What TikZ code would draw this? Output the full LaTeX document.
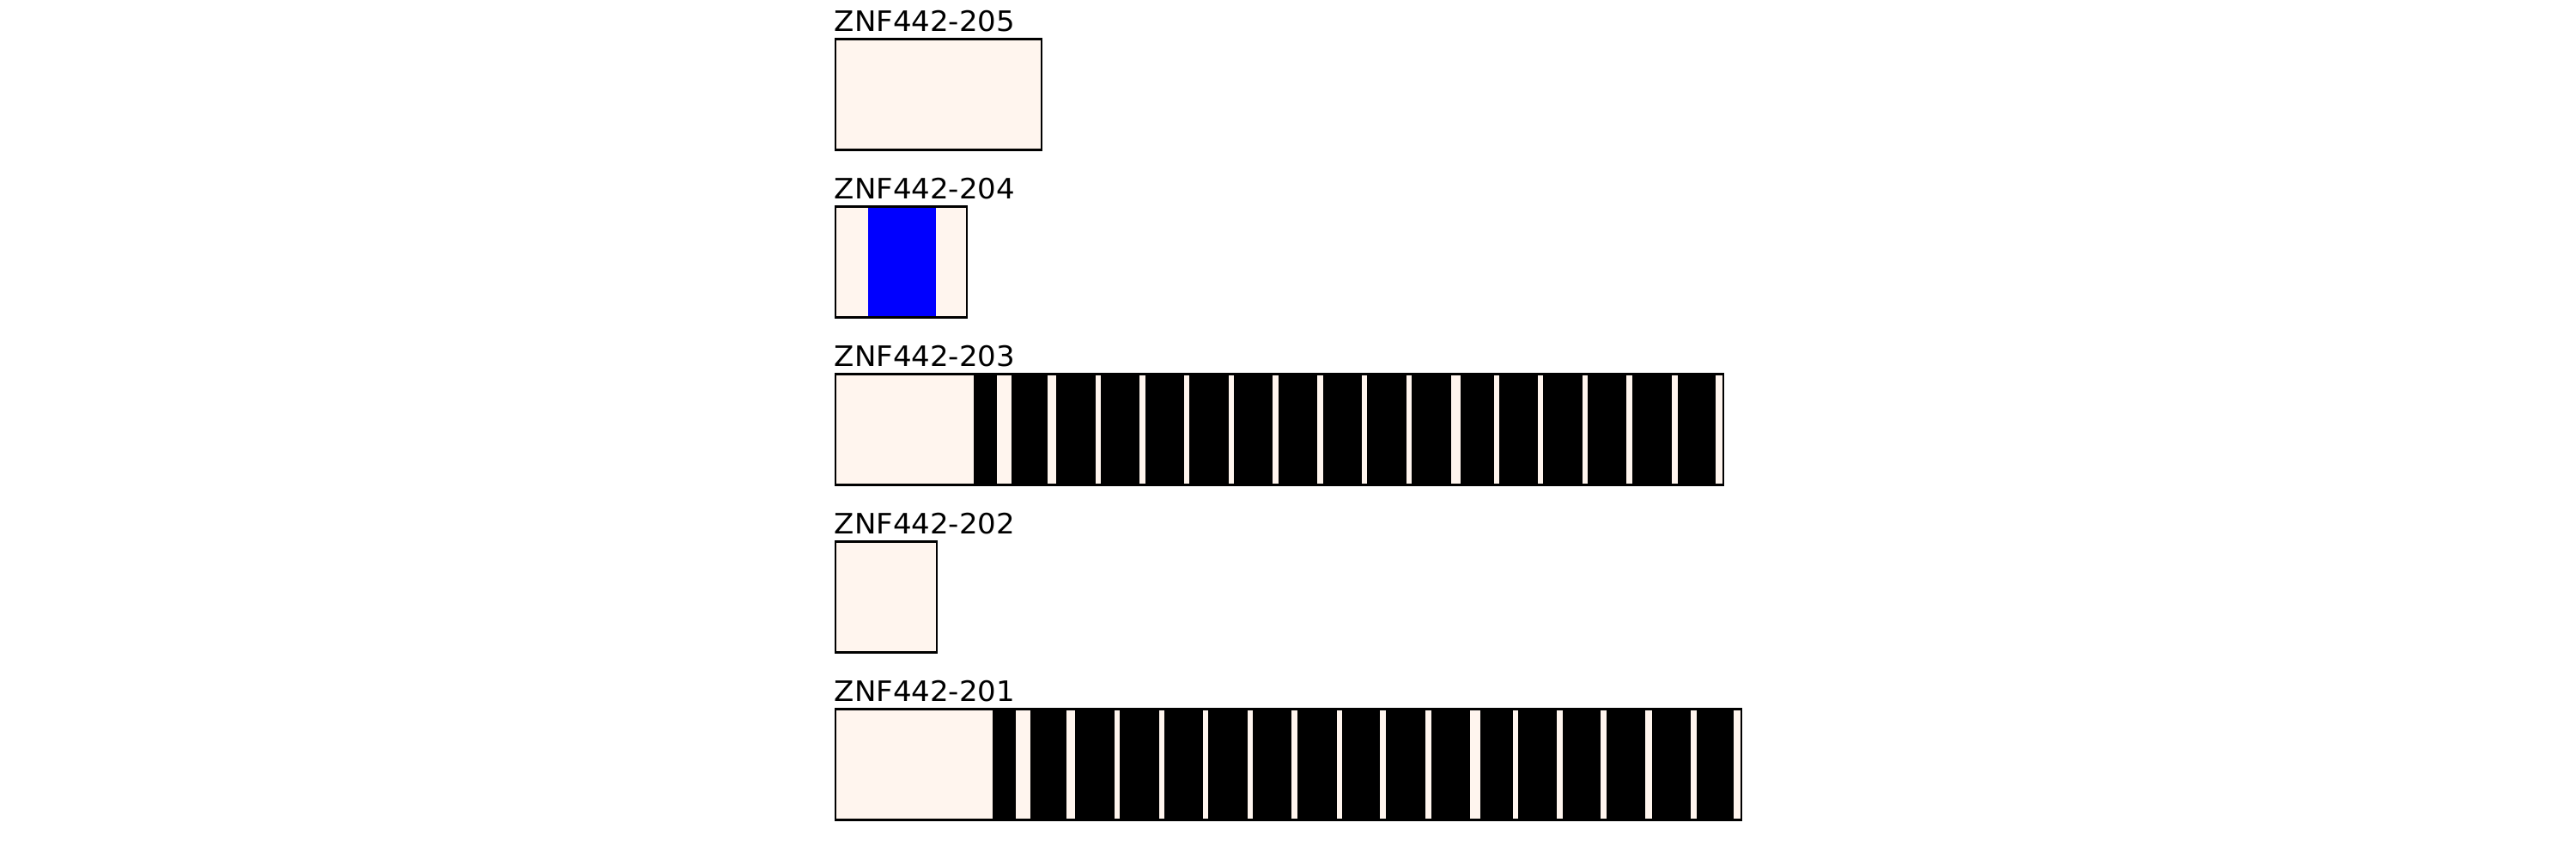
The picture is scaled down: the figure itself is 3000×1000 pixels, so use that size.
\documentclass[tikz,border=0pt]{standalone}
\usepackage{fontspec}
\newfontfamily\lblfont[FakeStretch=1.04]{DejaVu Sans}
\definecolor{utr}{HTML}{FFF5EE}
\definecolor{cdsblue}{HTML}{0000FF}
\tikzset{
  lbl/.style={anchor=base west, inner sep=0pt, font=\lblfont\fontsize{9.3}{11}\selectfont},
  tx/.style={draw=black, line width=0.65pt, fill=utr},
  zf/.style={draw=black, line width=0.3pt, fill=black},
  dom/.style={draw=none, fill=cdsblue},
  outl/.style={draw=black, line width=0.65pt}
}
\begin{document}
\begin{tikzpicture}[x=0.01cm, y=-0.01cm]
\useasboundingbox (0,0) rectangle (3000,1000);
% ZNF442-205
\node[lbl] (l205) at (971,36) {ZNF442-205};
\draw[tx] (972.7,45.5) rectangle (1212.7,174.5);
% ZNF442-204
\node[lbl] (l204) at (971,231) {ZNF442-204};
\draw[tx] (972.7,240.5) rectangle (1125.7,369.5);
\fill[dom] (1011,240.5) rectangle (1089.7,369.5);
\draw[outl] (972.7,240.5) rectangle (1125.7,369.5);
% ZNF442-203
\node[lbl] (l203) at (971,426) {ZNF442-203};
\draw[tx] (972.7,435.5) rectangle (2006.7,564.5);
\foreach \a/\b in {1135/1160,1179/1219,1231/1275,1283/1326,1335/1378,1386/1430,1438/1481.5,1490/1533,1542/1585,1593/1637,1645/1689,1702/1739,1747/1790,1798/1842,1850/1893.5,1902/1946,1954/1997}
  \draw[zf] (\a,435.5) rectangle (\b,564.5);
\draw[outl] (972.7,435.5) rectangle (2006.7,564.5);
% ZNF442-202
\node[lbl] (l202) at (971,621) {ZNF442-202};
\draw[tx] (972.7,630.5) rectangle (1090.7,759.5);
% ZNF442-201
\node[lbl] (l201) at (971,816) {ZNF442-201};
\draw[tx] (972.7,825.5) rectangle (2028.2,954.5);
\foreach \a/\b in {1157/1182,1201/1241,1253/1297,1305/1349,1357/1400,1408/1452,1460/1503.6,1512/1556,1564/1606.5,1615/1659,1667.5/1711,1724.5/1761,1769/1812,1821/1863.6,1872/1915.7,1924/1968,1976/2018.6}
  \draw[zf] (\a,825.5) rectangle (\b,954.5);
\draw[outl] (972.7,825.5) rectangle (2028.2,954.5);
\end{tikzpicture}
\end{document}
